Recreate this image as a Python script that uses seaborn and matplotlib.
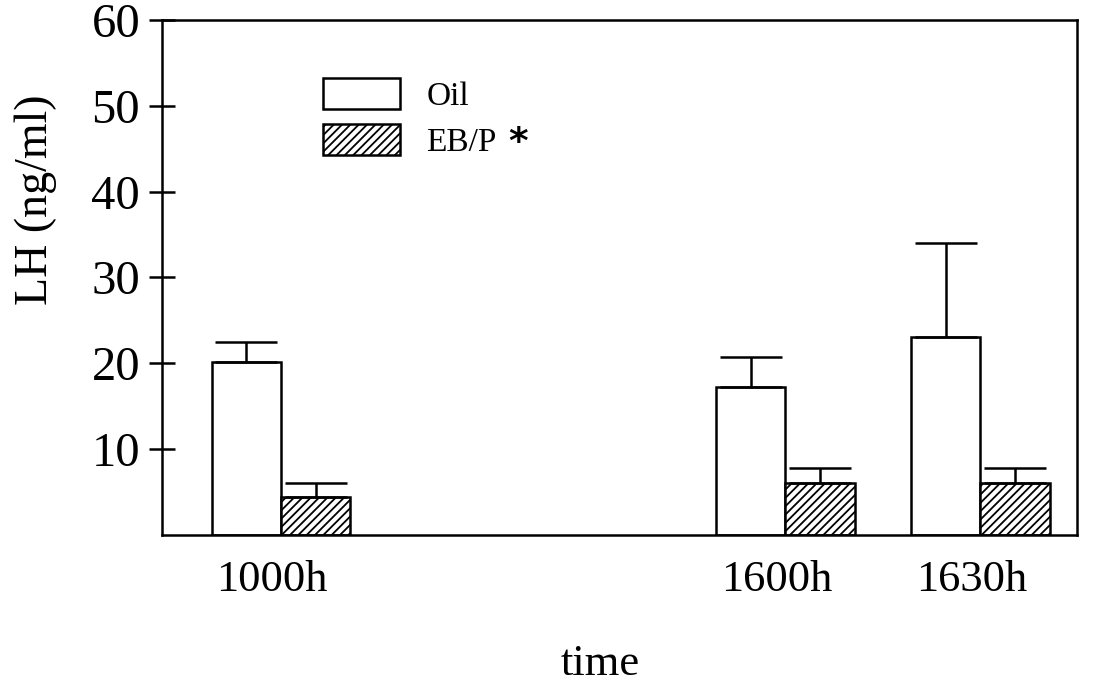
import numpy as np
import pandas as pd
import matplotlib
matplotlib.use("Agg")
import matplotlib.pyplot as plt
from matplotlib.transforms import ScaledTranslation
import seaborn as sns

# LH concentration (mean, upper SEM) by sampling time and treatment
times = ["1000h", "1600h", "1630h"]
groups = ["Oil", "EB/P"]
oil_mean = [20.2, 17.2, 23.1]
oil_sem = [2.3, 3.5, 10.9]
ebp_mean = [4.4, 6.0, 6.0]
ebp_sem = [1.6, 1.8, 1.8]

# horizontal slot of each time point on the axis (gap between morning and afternoon)
slot = [0.0, 2.585, 3.585]

sns.set_style("white")
plt.rcParams["font.family"] = ["Liberation Serif", "DejaVu Serif"]
plt.rcParams["hatch.linewidth"] = 1.3
plt.rcParams["hatch.color"] = "black"
for key in ["text.color", "axes.labelcolor", "xtick.color", "ytick.color"]:
    plt.rcParams[key] = "black"

df = pd.DataFrame({
    "slot": slot * 2,
    "time": times * 2,
    "group": [groups[0]] * 3 + [groups[1]] * 3,
    "LH": oil_mean + ebp_mean,
})

fig = plt.figure(figsize=(11.05, 6.87), dpi=100)
ax = fig.add_axes([0.1466, 0.2213, 0.8281, 0.7496])

lw = 1.8
sns.barplot(data=df, x="slot", y="LH", hue="group", hue_order=groups,
            native_scale=True, width=0.71, saturation=1,
            palette={"Oil": "white", "EB/P": "white"},
            edgecolor="black", linewidth=lw, errorbar=None,
            legend=False, ax=ax)

for bar in ax.containers[1]:
    bar.set_hatch("////")

# upper-only error bars
for cont, err in zip(ax.containers, [oil_sem, ebp_sem]):
    pts = sorted((p.get_x() + p.get_width() / 2, p.get_height()) for p in cont)
    xs = [p[0] for p in pts]
    ys = [p[1] for p in pts]
    ax.errorbar(xs, ys, yerr=[np.zeros(len(err)), err], fmt="none",
                ecolor="black", elinewidth=lw, capsize=22, capthick=lw,
                zorder=3)

ax.set_xlim(-0.61, 4.08)
ax.set_ylim(0, 60)
ax.set_xticks(slot, times)
ax.set_yticks([10, 20, 30, 40, 50, 60])
ax.get_yaxis().get_major_ticks()[-1].tick1line.set_visible(False)

ax.tick_params(axis="x", length=0, pad=18, labelsize=32)
ax.tick_params(axis="y", direction="inout", length=19.4, width=lw,
               pad=6, labelsize=35, left=True, right=False)

# time labels sit a little left of their bar pairs
shift = ScaledTranslation(-0.09, 0, fig.dpi_scale_trans)
for lbl in ax.get_xticklabels():
    lbl.set_transform(lbl.get_transform() + shift)

for s in ax.spines.values():
    s.set_visible(True)
    s.set_color("black")
    s.set_linewidth(lw)

ax.set_ylabel("LH (ng/ml)", fontsize=33)
ax.yaxis.set_label_coords(-0.115, 0.65)
ax.set_xlabel("time", fontsize=32)
ax.xaxis.set_label_coords(0.479, -0.212)

handles = [ax.containers[0][0], ax.containers[1][0]]
leg = ax.legend(handles, groups, loc="upper left", bbox_to_anchor=(0.176, 0.888),
                frameon=False, fontsize=24, handlelength=2.3, handleheight=1.08,
                handletextpad=0.8, labelspacing=0.36, borderpad=0, borderaxespad=0)

ax.annotate("*", xy=(1, 1), xycoords=leg.get_texts()[1], xytext=(8, 2),
            textcoords="offset points", ha="left", va="top", fontsize=27,
            fontweight="bold", family="DejaVu Sans", zorder=10)

fig.savefig("out.png", dpi=100)
